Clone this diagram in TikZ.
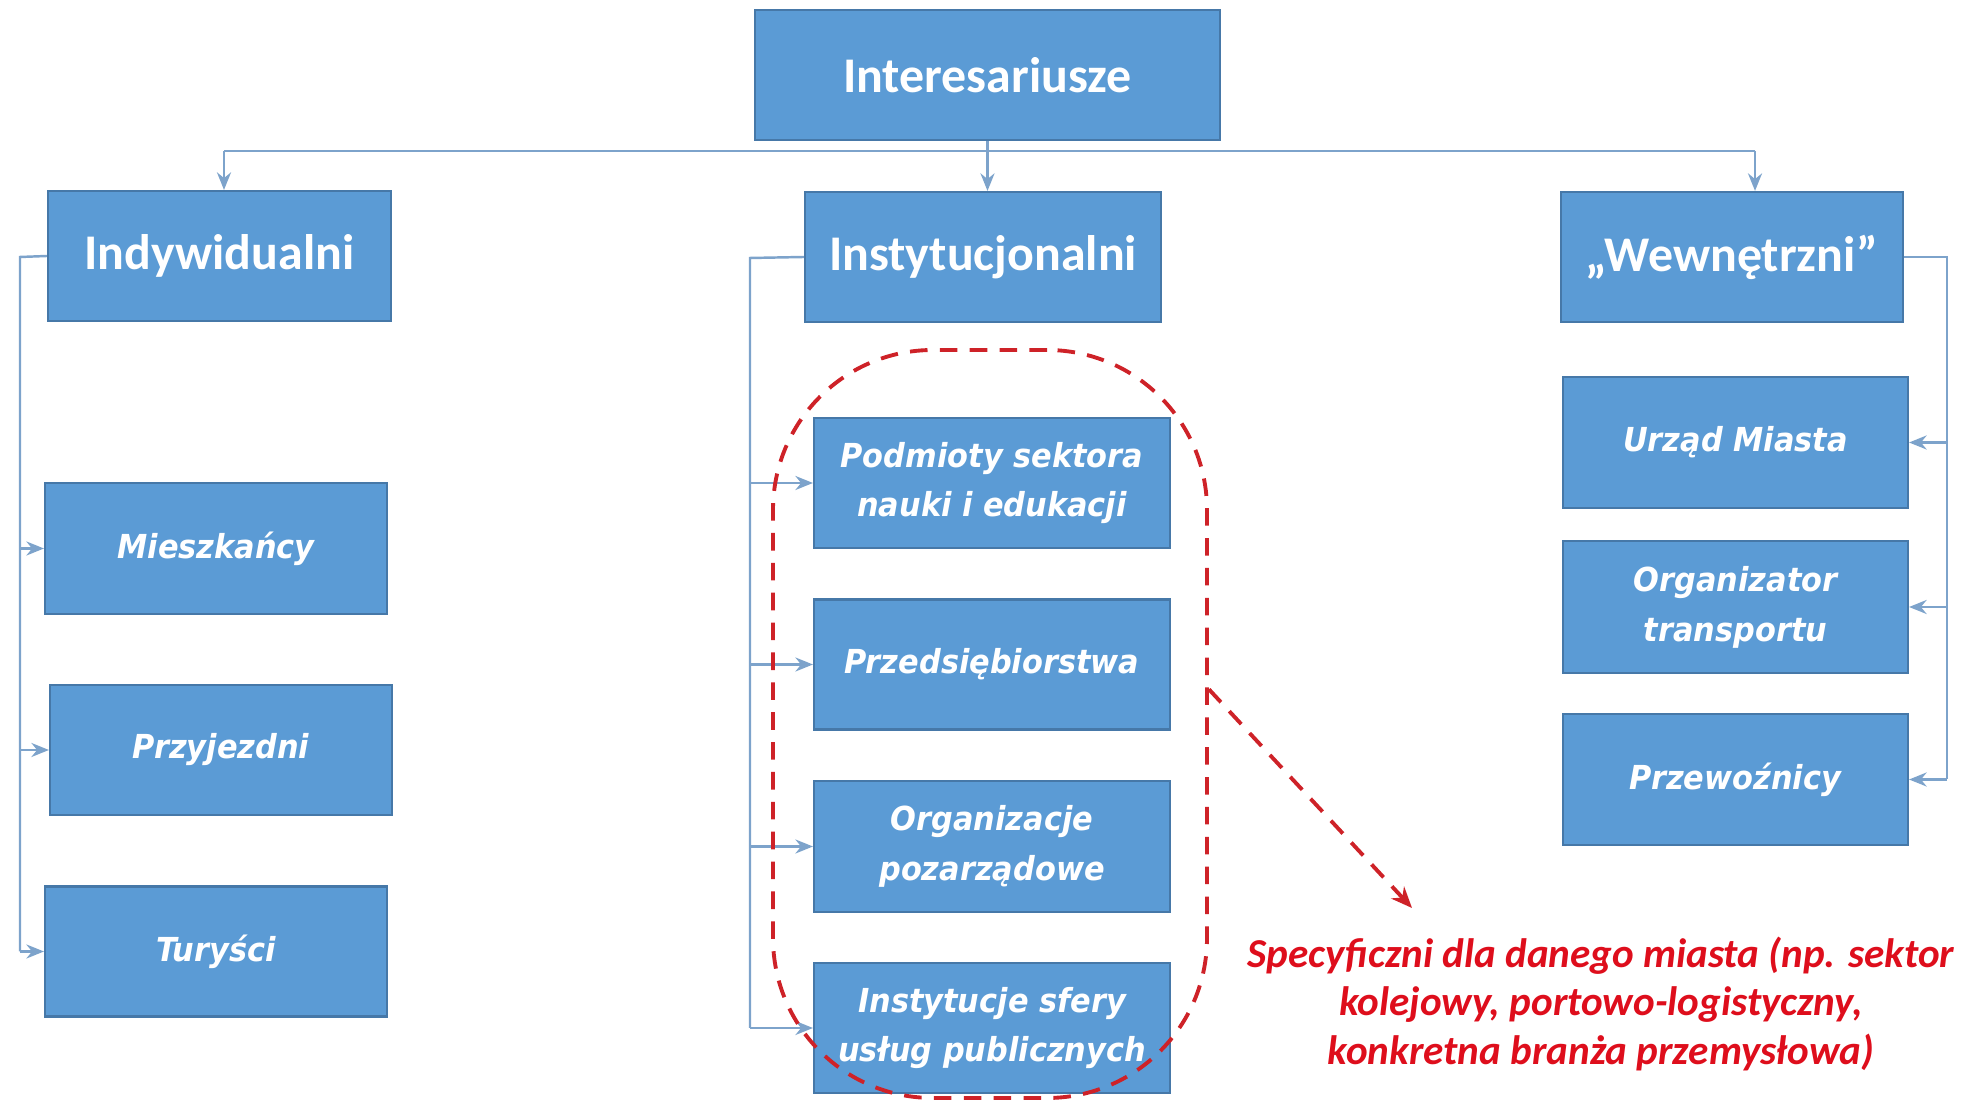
\documentclass[tikz,border=0pt]{standalone}
\usepackage{fontspec}
\setmainfont{Carlito}
\newfontfamily\boxfont[FakeStretch=0.92]{DejaVu Sans}
\usepackage{tikz}
\usetikzlibrary{arrows.meta}
\definecolor{boxblue}{RGB}{91,155,213}
\definecolor{boxedge}{RGB}{70,120,168}
\definecolor{linkblue}{RGB}{125,163,203}
\definecolor{noteRed}{RGB}{222,14,28}
\definecolor{dashRed}{RGB}{206,34,40}
\tikzset{>={Stealth[length=5pt,width=4pt]}}
\tikzset{
  head/.style={draw=boxedge, line width=0.6pt, fill=boxblue, text=white, font=\fontsize{14.2}{16}\selectfont\bfseries, inner sep=0pt},
  item/.style={draw=boxedge, line width=0.6pt, fill=boxblue, text=white, align=center, font=\boxfont\fontsize{9.4}{14.2}\selectfont\bfseries\itshape, inner sep=0pt},
  link/.style={draw=linkblue, line width=0.7pt},
  linkarr/.style={link, ->, color=linkblue}
}

\begin{document}
\begin{tikzpicture}
    \useasboundingbox (0, 0) rectangle (19.72, 11.03);
    \node[head, minimum width=4.65cm, minimum height=1.30cm] (top) at (9.875, 10.28) {Interesariusze};
    \node[head, minimum width=3.43cm, minimum height=1.30cm] (indyw) at (2.195, 8.47) {Indywidualni};
    \node[head, minimum width=3.56cm, minimum height=1.30cm] (instyt) at (9.83, 8.46) {Instytucjonalni};
    \node[head, minimum width=3.42cm, minimum height=1.30cm] (wewn) at (17.32, 8.46) {„Wewnętrzni”};
    \node[item, minimum width=3.42cm, minimum height=1.31cm] (miesz) at (2.16, 5.545) {Mieszkańcy};
    \node[item, minimum width=3.42cm, minimum height=1.30cm] (przyj) at (2.21, 3.53) {Przyjezdni};
    \node[item, minimum width=3.42cm, minimum height=1.30cm] (turysci) at (2.16, 1.515) {Turyści};
    \node[item, minimum width=3.56cm, minimum height=1.30cm] (podm) at (9.92, 6.20) {Podmioty sektora\\nauki i edukacji};
    \node[item, minimum width=3.56cm, minimum height=1.30cm] (przeds) at (9.92, 4.385) {Przedsiębiorstwa};
    \node[item, minimum width=3.56cm, minimum height=1.31cm] (organ) at (9.92, 2.565) {Organizacje\\pozarządowe};
    \node[item, minimum width=3.56cm, minimum height=1.30cm] (sfery) at (9.92, 0.75) {Instytucje sfery\\usług publicznych};
    \node[item, minimum width=3.45cm, minimum height=1.31cm] (urzad) at (17.355, 6.605) {Urząd Miasta};
    \node[item, minimum width=3.45cm, minimum height=1.32cm] (orgtr) at (17.355, 4.96) {Organizator\\transportu};
    \node[item, minimum width=3.45cm, minimum height=1.31cm] (przew) at (17.355, 3.235) {Przewoźnicy};
    \coordinate (busl) at (2.24, 9.52);
    \coordinate (busr) at (17.55, 9.52);
    \draw[link] (top.south) -- (top.south |- busl);
    \draw[link] (busl) -- (busr);
    \draw[linkarr] (busl) -- (busl |- indyw.north);
    \draw[linkarr] (top.south) -- (top.south |- instyt.north);
    \draw[linkarr] (busr) -- (busr |- wewn.north);
    \coordinate (lbus) at (0.20, 8.46);
    \draw[link] (indyw.west) -- (lbus) -- (lbus |- turysci.west);
    \draw[linkarr] (lbus |- miesz.west) -- (miesz.west);
    \draw[linkarr] (lbus |- przyj.west) -- (przyj.west);
    \draw[linkarr] (lbus |- turysci.west) -- (turysci.west);
    \coordinate (mbus) at (7.50, 8.45);
    \draw[link] (instyt.west) -- (mbus) -- (mbus |- sfery.west);
    \draw[linkarr] (mbus |- podm.west) -- (podm.west);
    \draw[linkarr] (mbus |- przeds.west) -- (przeds.west);
    \draw[linkarr] (mbus |- organ.west) -- (organ.west);
    \draw[linkarr] (mbus |- sfery.west) -- (sfery.west);
    \coordinate (rbus) at (19.47, 8.46);
    \draw[link] (wewn.east) -- (rbus) -- (rbus |- przew.east);
    \draw[linkarr] (rbus |- urzad.east) -- (urzad.east);
    \draw[linkarr] (rbus |- orgtr.east) -- (orgtr.east);
    \draw[linkarr] (rbus |- przew.east) -- (przew.east);
    \node[draw=dashRed, line width=1.1pt, dash pattern=on 5pt off 3.5pt, rounded corners=1.6cm, minimum width=4.34cm, minimum height=7.48cm] (grp) at (9.90, 3.79) {};
    \node[text=noteRed, align=center, font=\fontsize{11.7}{13.9}\selectfont\bfseries\itshape] (note) at (16.01, 0.99) {Specyficzni dla danego miasta (np. sektor\\kolejowy, portowo-logistyczny,\\konkretna branża przemysłowa)};
    \coordinate (tip) at (14.12, 1.95);
    \draw[draw=dashRed, line width=1.1pt, dash pattern=on 5pt off 3.5pt, -{Stealth[length=6pt,width=5pt]}, color=dashRed] (grp.9) -- (tip);
  \end{tikzpicture}
\end{document}
